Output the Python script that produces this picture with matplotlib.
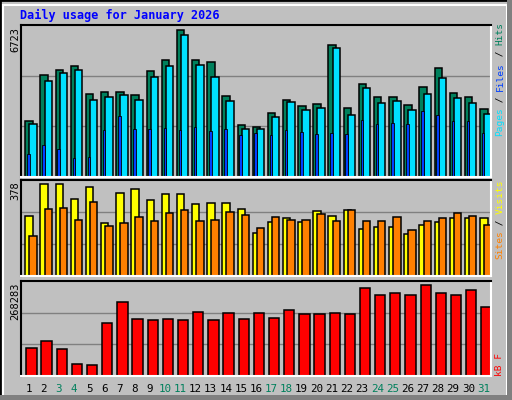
import matplotlib
matplotlib.use("Agg")
import matplotlib.pyplot as plt
from matplotlib.patches import Rectangle
import numpy as np

days = list(range(1, 32))
weekend = [3, 4, 10, 11, 17, 18, 24, 25, 31]
hits = [2490, 4510, 4727, 4903, 3674, 3775, 3775, 3630, 4684, 5167, 6484, 5167, 5079, 3587, 2313, 2226,
        2840, 3411, 3148, 3235, 5839, 3060, 4113, 3541, 3541, 3191, 3982, 4815, 3718, 3541, 3016]
files = [2357, 4260, 4596, 4727, 3424, 3541, 3630, 3424, 4420, 4903, 6278, 4947, 4420, 3367, 2107, 2107,
         2665, 3323, 2972, 3060, 5694, 2753, 3938, 3279, 3367, 2972, 3674, 4376, 3499, 3279, 2796]
pages = [1010, 1405, 1230, 834, 878, 2063, 2678, 2107, 2107, 2151, 2063, 2195, 2019, 2107, 1844, 1932,
         1844, 2063, 1975, 1888, 1932, 1888, 2502, 2327, 2371, 2327, 2941, 2722, 2458, 2458, 1932]
visits = [236, 362, 362, 303, 350, 209, 327, 343, 299, 323, 323, 283, 287, 287, 264, 169,
          213, 228, 213, 256, 236, 260, 185, 193, 193, 165, 201, 213, 228, 228, 228]
sites = [157, 264, 268, 220, 291, 197, 209, 232, 217, 248, 260, 217, 220, 252, 240, 189,
         232, 220, 220, 244, 217, 260, 217, 217, 232, 181, 217, 228, 248, 236, 201]
kbytes = [80010, 99780, 77190, 34830, 32000, 150600, 209900, 161900, 159100, 161900, 159100, 181700,
          159100, 178800, 161900, 178800, 164700, 187300, 176000, 176000, 178800, 176000, 249400,
          229700, 235300, 229700, 257900, 235300, 229700, 243800, 195800]
max_hits, max_visits, max_kb = 6723, 378, 268283

BG = "#C0C0C0"
W, H = 512, 400
fig = plt.figure(figsize=(W/100, H/100), dpi=100, facecolor=BG)
fig.patches.append(Rectangle((0, 0), 1, 1, transform=fig.transFigure, fill=False, ec="black", lw=2))
fig.patches.append(Rectangle((3/W, 3/H), 1-8/W, 1-8/H, transform=fig.transFigure, fill=False, ec="white", lw=1.5))
fig.patches.append(Rectangle((0, 0), 1, 5/H, transform=fig.transFigure, fc="#808080", ec="none"))
fig.patches.append(Rectangle((1-5/W, 0), 5/W, 1, transform=fig.transFigure, fc="#808080", ec="none"))

def add_ax(x0, y0, x1, y1):
    ax = fig.add_axes([x0/W, 1-y1/H, (x1-x0)/W, (y1-y0)/H])
    ax.set_facecolor(BG)
    ax.set_xlim(0, 31)
    ax.set_xticks([]); ax.set_yticks([])
    ax.spines['top'].set_color('black'); ax.spines['left'].set_color('black')
    ax.spines['bottom'].set_color('white'); ax.spines['right'].set_color('white')
    for s in ax.spines.values(): s.set_linewidth(1.5)
    return ax

x = np.arange(31)
ek = dict(edgecolor='black', linewidth=1.1, align='edge')

ax1 = add_ax(21, 25, 491, 177)
ax1.set_ylim(0, max_hits)
for g in (1, 2): ax1.axhline(max_hits*g/3, color='#808080', lw=1, zorder=0)
ax1.bar(x+0.28, hits, 0.49, color='#00805C', **ek)
ax1.bar(x+0.55, files, 0.49, color='#00E0FF', **ek)
ax1.bar(x+0.40, pages, 0.17, color='#0040FF', edgecolor='black', linewidth=0.6, align='edge')

ax2 = add_ax(21, 180, 491, 276)
ax2.set_ylim(0, max_visits)
for g in (1, 2): ax2.axhline(max_visits*g/3, color='#808080', lw=1, zorder=0)
ax2.bar(x+0.28, visits, 0.49, color='#FFFF00', **ek)
ax2.bar(x+0.55, sites, 0.49, color='#FF8000', **ek)

ax3 = add_ax(21, 281, 491, 376)
ax3.set_ylim(0, max_kb)
for g in (1, 2): ax3.axhline(max_kb*g/3, color='#808080', lw=1, zorder=0)
ax3.bar(x+0.35, kbytes, 0.68, color='#FF0000', **ek)

mono = 'DejaVu Sans Mono'
fig.text(20/W, 1-15/H, "Daily usage for January 2026", color='#0000FF', family=mono,
         weight='bold', fontsize=8.5, va='center', ha='left')
for lbl, ytop in ((str(max_hits), 27), (str(max_visits), 181), (str(max_kb), 282)):
    fig.text(15/W, 1-ytop/H, lbl, rotation=90, family=mono, fontsize=7.5, va='top', ha='center')

def stack(xpx, ybot, parts, fs=6.8):
    cw = 0.6*fs*100/72
    y = ybot
    for txt, c in parts:
        fig.text(xpx/W, 1-y/H, txt, rotation=90, family=mono, fontsize=fs, color=c,
                 va='bottom', ha='center')
        y -= cw*len(txt)

stack(500, 136, [("Pages", '#00E0FF'), (" / ", 'black'), ("Files", '#0040FF'), (" / ", 'black'), ("Hits", '#00805C')])
stack(500, 259, [("Sites", '#FF8000'), (" / ", 'black'), ("Visits", '#FFFF00')])
stack(500, 376, [("kB F", '#FF0000')])

for d in days:
    xp = 21 + (d-1+0.5)*470/31
    fig.text(xp/W, 1-389/H, str(d), family=mono, fontsize=7.8, ha='center', va='center',
             color='#00805C' if d in weekend else 'black')

fig.savefig("out.png", dpi=100, facecolor=BG)
